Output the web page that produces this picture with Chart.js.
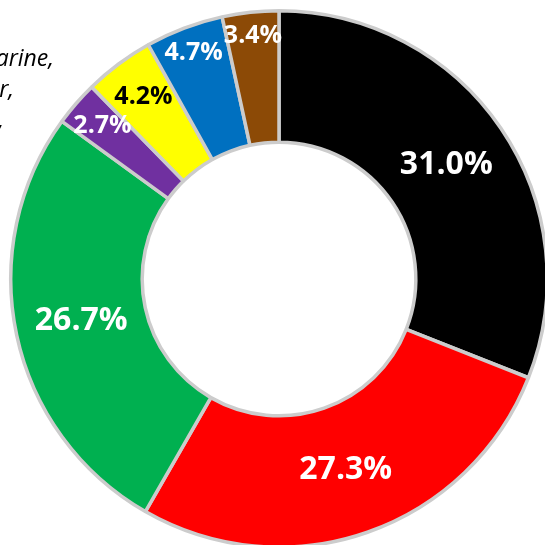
<!DOCTYPE html>
<html>
<head>
<meta charset="utf-8">
<script src="https://cdn.jsdelivr.net/npm/chart.js@4/dist/chart.umd.min.js"></script>
<style>
  html, body { margin: 0; padding: 0; overflow: hidden; background: #fff; }
  #wrap { position: absolute; left: 0; top: 0; width: 558px; height: 558px; }
</style>
</head>
<body>
<div id="wrap"><canvas id="donut" width="558" height="558"></canvas></div>
<script>
// Datos
const categorias = ['Serie 1', 'Serie 2', 'Serie 3', 'Serie 4', 'Serie 5', 'Serie 6', 'Serie 7'];
const valores = [31.0, 27.3, 26.7, 2.7, 4.2, 4.7, 3.4];
const colores = ['#000000', '#ff0000', '#00b050', '#7030a0', '#ffff00', '#0070c0', '#8c4a06'];
const colorTexto = ['#fff', '#fff', '#fff', '#fff', '#000', '#fff', '#fff'];
// texto cortado arriba a la izquierda
const textoCortado = ['arine,', 'r,', ','];

// radio de la etiqueta como fraccion del radio exterior
const radioEtiqueta = [0.754, 0.754, 0.754, 0.87, 0.845, 0.9, 0.91];

const etiquetasPlugin = {
    id: 'etiquetas',
    afterDatasetsDraw(chart) {
        const ctx = chart.ctx;
        const arcs = chart.getDatasetMeta(0).data;
        ctx.save();
        ctx.textAlign = 'center';
        ctx.textBaseline = 'middle';
        arcs.forEach((arc, i) => {
            const p = arc.getProps(['x', 'y', 'startAngle', 'endAngle', 'outerRadius']);
            const mid = (p.startAngle + p.endAngle) / 2;
            const r = p.outerRadius * radioEtiqueta[i];
            const big = valores[i] > 10;
            ctx.font = 'bold ' + (big ? 32 : 25) + 'px "Open Sans", sans-serif';
            ctx.fillStyle = colorTexto[i];
            ctx.fillText(valores[i].toFixed(1) + '%', p.x + Math.cos(mid) * r, p.y + Math.sin(mid) * r);
        });
        // texto cortado
        ctx.font = 'italic 23px "Open Sans", sans-serif';
        ctx.fillStyle = '#000';
        ctx.textAlign = 'right';
        ctx.textBaseline = 'alphabetic';
        const xs = [54, 14, 4];
        textoCortado.forEach((t, i) => ctx.fillText(t, xs[i], 66 + i * 31));
        ctx.restore();
    }
};

const donutChart = new Chart(document.getElementById('donut'), {
    type: 'doughnut',
    data: {
        labels: categorias,
        datasets: [{
            data: valores,
            backgroundColor: colores,
            borderColor: '#cccccc',
            borderWidth: 3.5
        }]
    },
    options: {
        responsive: false,
        animation: false,
        cutout: '51%',
        layout: { padding: 9 },
        plugins: {
            legend: { display: false },
            tooltip: { enabled: false }
        }
    },
    plugins: [etiquetasPlugin]
});
</script>
</body>
</html>
